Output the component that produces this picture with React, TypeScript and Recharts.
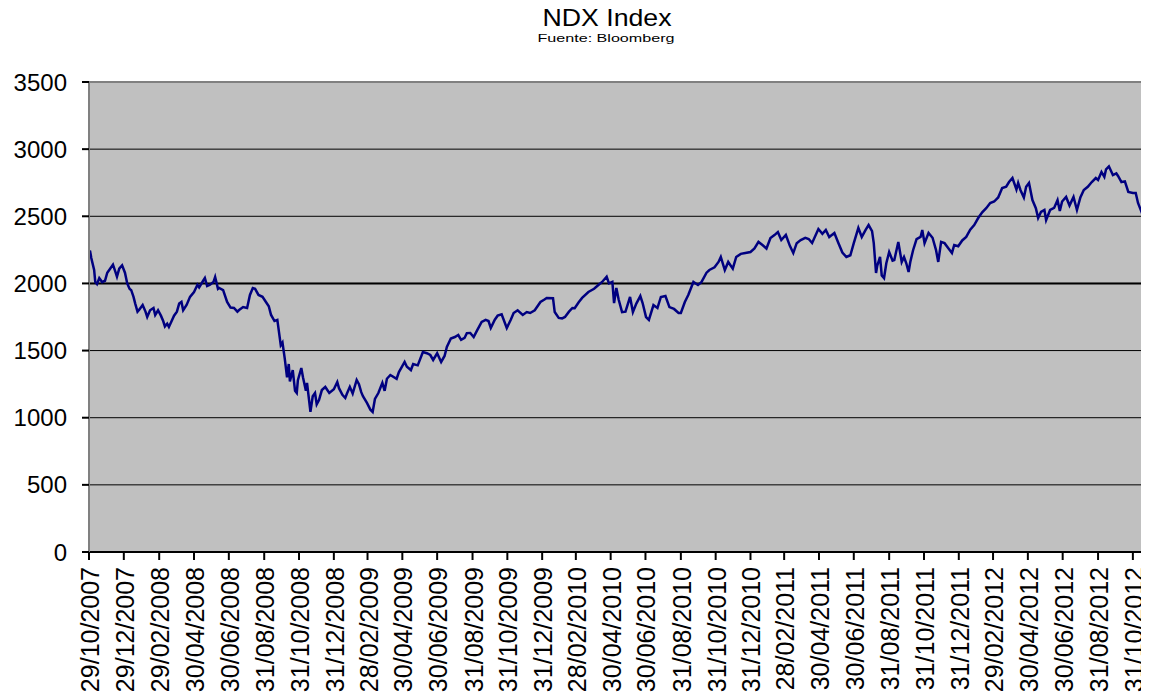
import React from 'react';
import { LineChart, Line, XAxis, YAxis, CartesianGrid, ReferenceLine } from 'recharts';

const title = 'NDX Index';
const subtitle = 'Fuente: Bloomberg';

const startDate = '2007-10-29';
const endDay = 1852;

const xTickLabels = [
  '29/10/2007', '29/12/2007', '29/02/2008', '30/04/2008', '30/06/2008', '31/08/2008',
  '31/10/2008', '31/12/2008', '28/02/2009', '30/04/2009', '30/06/2009', '31/08/2009',
  '31/10/2009', '31/12/2009', '28/02/2010', '30/04/2010', '30/06/2010', '31/08/2010',
  '31/10/2010', '31/12/2010', '28/02/2011', '30/04/2011', '30/06/2011', '31/08/2011',
  '31/10/2011', '31/12/2011', '29/02/2012', '30/04/2012', '30/06/2012', '31/08/2012',
  '31/10/2012',
];

const yTicks = [0, 500, 1000, 1500, 2000, 2500, 3000, 3500];

const dates = [
  '2007-10-29', '2007-10-31', '2007-11-02', '2007-11-07', '2007-11-09', '2007-11-12', '2007-11-16', '2007-11-21', '2007-11-26', '2007-11-30',
  '2007-12-05', '2007-12-10', '2007-12-14', '2007-12-17', '2007-12-21', '2007-12-26', '2007-12-31', '2008-01-04', '2008-01-08', '2008-01-11',
  '2008-01-15', '2008-01-18', '2008-01-22', '2008-01-25', '2008-01-31', '2008-02-05', '2008-02-08', '2008-02-13', '2008-02-19', '2008-02-22',
  '2008-02-27', '2008-03-03', '2008-03-07', '2008-03-10', '2008-03-14', '2008-03-17', '2008-03-21', '2008-03-26', '2008-03-31', '2008-04-04',
  '2008-04-08', '2008-04-11', '2008-04-17', '2008-04-23', '2008-04-30', '2008-05-06', '2008-05-09', '2008-05-16', '2008-05-19', '2008-05-23',
  '2008-05-28', '2008-06-03', '2008-06-06', '2008-06-11', '2008-06-13', '2008-06-20', '2008-06-27', '2008-07-03', '2008-07-09', '2008-07-15',
  '2008-07-18', '2008-07-25', '2008-08-01', '2008-08-06', '2008-08-11', '2008-08-15', '2008-08-21', '2008-08-28', '2008-09-03', '2008-09-08',
  '2008-09-12', '2008-09-18', '2008-09-23', '2008-09-29', '2008-10-02', '2008-10-06', '2008-10-10', '2008-10-13', '2008-10-15', '2008-10-20',
  '2008-10-24', '2008-10-27', '2008-10-29', '2008-11-04', '2008-11-07', '2008-11-12', '2008-11-14', '2008-11-20', '2008-11-24', '2008-11-28',
  '2008-12-01', '2008-12-05', '2008-12-10', '2008-12-16', '2008-12-19', '2008-12-23', '2008-12-31', '2009-01-06', '2009-01-09', '2009-01-15',
  '2009-01-20', '2009-01-23', '2009-01-28', '2009-02-02', '2009-02-09', '2009-02-13', '2009-02-17', '2009-02-20', '2009-02-27', '2009-03-05',
  '2009-03-09', '2009-03-13', '2009-03-19', '2009-03-26', '2009-03-30', '2009-04-03', '2009-04-09', '2009-04-20', '2009-04-24', '2009-05-04',
  '2009-05-08', '2009-05-15', '2009-05-19', '2009-05-27', '2009-06-05', '2009-06-12', '2009-06-18', '2009-06-23', '2009-06-30', '2009-07-07',
  '2009-07-13', '2009-07-17', '2009-07-24', '2009-07-31', '2009-08-06', '2009-08-11', '2009-08-17', '2009-08-21', '2009-08-27', '2009-09-02',
  '2009-09-08', '2009-09-16', '2009-09-23', '2009-09-28', '2009-10-02', '2009-10-09', '2009-10-14', '2009-10-21', '2009-10-30', '2009-11-06',
  '2009-11-11', '2009-11-18', '2009-11-27', '2009-12-04', '2009-12-10', '2009-12-18', '2009-12-28', '2010-01-04', '2010-01-08', '2010-01-19',
  '2010-01-22', '2010-01-29', '2010-02-04', '2010-02-09', '2010-02-16', '2010-02-22', '2010-02-26', '2010-03-05', '2010-03-11', '2010-03-22',
  '2010-04-01', '2010-04-09', '2010-04-15', '2010-04-23', '2010-04-27', '2010-05-03', '2010-05-06', '2010-05-10', '2010-05-14', '2010-05-20',
  '2010-05-26', '2010-06-03', '2010-06-08', '2010-06-14', '2010-06-21', '2010-06-25', '2010-07-01', '2010-07-06', '2010-07-14', '2010-07-21',
  '2010-07-27', '2010-08-04', '2010-08-11', '2010-08-19', '2010-08-27', '2010-08-31', '2010-09-07', '2010-09-13', '2010-09-22', '2010-09-30',
  '2010-10-06', '2010-10-15', '2010-10-20', '2010-10-29', '2010-11-05', '2010-11-09', '2010-11-16', '2010-11-22', '2010-11-30', '2010-12-06',
  '2010-12-14', '2010-12-22', '2010-12-31', '2011-01-07', '2011-01-14', '2011-01-21', '2011-01-28', '2011-02-04', '2011-02-11', '2011-02-17',
  '2011-02-23', '2011-03-03', '2011-03-10', '2011-03-16', '2011-03-22', '2011-03-29', '2011-04-06', '2011-04-12', '2011-04-18', '2011-04-29',
  '2011-05-06', '2011-05-12', '2011-05-18', '2011-05-27', '2011-06-03', '2011-06-10', '2011-06-17', '2011-06-24', '2011-06-30', '2011-07-08',
  '2011-07-14', '2011-07-21', '2011-07-26', '2011-08-01', '2011-08-04', '2011-08-08', '2011-08-10', '2011-08-15', '2011-08-18', '2011-08-22',
  '2011-08-26', '2011-08-31', '2011-09-06', '2011-09-09', '2011-09-16', '2011-09-22', '2011-09-26', '2011-09-30', '2011-10-04', '2011-10-07',
  '2011-10-12', '2011-10-18', '2011-10-25', '2011-10-28', '2011-11-01', '2011-11-08', '2011-11-15', '2011-11-21', '2011-11-25', '2011-11-30',
  '2011-12-06', '2011-12-13', '2011-12-19', '2011-12-23', '2011-12-30', '2012-01-06', '2012-01-13', '2012-01-20', '2012-01-27', '2012-02-03',
  '2012-02-10', '2012-02-17', '2012-02-24', '2012-03-02', '2012-03-09', '2012-03-16', '2012-03-23', '2012-03-28', '2012-04-03', '2012-04-10',
  '2012-04-13', '2012-04-17', '2012-04-23', '2012-04-27', '2012-05-02', '2012-05-08', '2012-05-14', '2012-05-18', '2012-05-23', '2012-05-29',
  '2012-06-01', '2012-06-08', '2012-06-15', '2012-06-21', '2012-06-25', '2012-06-29', '2012-07-06', '2012-07-12', '2012-07-19', '2012-07-25',
  '2012-07-31', '2012-08-06', '2012-08-13', '2012-08-20', '2012-08-27', '2012-08-31', '2012-09-06', '2012-09-11', '2012-09-14', '2012-09-19',
  '2012-09-26', '2012-10-02', '2012-10-05', '2012-10-11', '2012-10-17', '2012-10-23', '2012-10-31', '2012-11-05', '2012-11-09', '2012-11-15',
  '2012-11-19', '2012-11-23',
];

const ndxValues = [
  2240, 2238, 2190, 2100, 2010, 1995, 2040, 2010, 2020, 2080,
  2110, 2140, 2090, 2050, 2110, 2135, 2080, 2000, 1960, 1950,
  1900, 1850, 1790, 1805, 1840, 1790, 1750, 1800, 1817, 1765,
  1800, 1760, 1720, 1680, 1700, 1676, 1713, 1760, 1790, 1850,
  1862, 1800, 1840, 1900, 1936, 1990, 1970, 2020, 2040, 1980,
  1990, 2010, 2048, 1960, 1966, 1950, 1862, 1820, 1817, 1790,
  1802, 1824, 1817, 1914, 1966, 1960, 1914, 1900, 1862, 1830,
  1765, 1720, 1728, 1540, 1560, 1440, 1300, 1400, 1270, 1355,
  1200, 1184, 1280, 1370, 1300, 1200, 1259, 1043, 1160, 1184,
  1100, 1132, 1206, 1229, 1210, 1184, 1212, 1266, 1220, 1170,
  1147, 1180, 1230, 1180, 1281, 1250, 1190, 1160, 1110, 1060,
  1043, 1140, 1184, 1260, 1200, 1290, 1318, 1290, 1340, 1415,
  1380, 1355, 1400, 1390, 1489, 1480, 1467, 1430, 1480, 1415,
  1460, 1527, 1590, 1601, 1616, 1580, 1594, 1630, 1631, 1601,
  1650, 1713, 1728, 1720, 1668, 1730, 1760, 1770, 1668, 1730,
  1780, 1800, 1765, 1787, 1780, 1800, 1862, 1880, 1892, 1890,
  1787, 1743, 1740, 1750, 1790, 1817, 1815, 1860, 1892, 1936,
  1960, 1990, 2011, 2050, 2000, 2011, 1854, 1966, 1880, 1787,
  1790, 1899, 1787, 1850, 1906, 1854, 1750, 1728, 1839, 1817,
  1899, 1906, 1824, 1810, 1780, 1780, 1862, 1914, 2011, 1988,
  2010, 2080, 2100, 2120, 2160, 2197, 2100, 2160, 2110, 2197,
  2220, 2227, 2234, 2260, 2309, 2286, 2260, 2338, 2360, 2383,
  2323, 2361, 2280, 2227, 2300, 2323, 2340, 2331, 2301, 2405,
  2370, 2398, 2346, 2376, 2301, 2230, 2197, 2210, 2300, 2413,
  2346, 2400, 2435, 2390, 2300, 2078, 2130, 2197, 2060, 2040,
  2150, 2234, 2170, 2174, 2309, 2160, 2197, 2150, 2085, 2160,
  2249, 2330, 2346, 2398, 2300, 2376, 2340, 2250, 2160, 2309,
  2300, 2260, 2227, 2286, 2277, 2320, 2346, 2400, 2435, 2487,
  2530, 2560, 2599, 2610, 2640, 2711, 2720, 2755, 2785, 2700,
  2748, 2696, 2640, 2720, 2748, 2621, 2560, 2487, 2532, 2547,
  2472, 2547, 2562, 2621, 2540, 2610, 2644, 2580, 2644, 2547,
  2640, 2696, 2720, 2755, 2785, 2770, 2830, 2793, 2850, 2872,
  2807, 2820, 2800, 2755, 2760, 2681, 2673, 2673, 2599, 2534,
  2600, 2645,
];

const DAY = 86400000;
const startMs = Date.parse(startDate);
const dayOf = (iso: string) => Math.round((Date.parse(iso) - startMs) / DAY);
const labelDay = (lbl: string) => {
  const [dd, mm, yy] = lbl.split('/').map(Number);
  return Math.round((Date.UTC(yy, mm - 1, dd) - startMs) / DAY);
};

const data = dates.map((d, i) => ({ d: dayOf(d), v: ndxValues[i] }));
const xTickDays = xTickLabels.map(labelDay);
const labelByDay: Record<number, string> = {};
xTickLabels.forEach((l, i) => { labelByDay[xTickDays[i]] = l; });

const FONT = '"Liberation Sans", Arial, sans-serif';

const XTick = (props: any) => {
  const { x, y, payload } = props;
  return (
    <g transform={`translate(${x},${y})`}>
      <text transform="rotate(-90)" x={0} y={0} dy="0.4em" textAnchor="end" fontSize={25} fontFamily={FONT} fill="#000">
        {labelByDay[payload.value]}
      </text>
    </g>
  );
};

const YTick = (props: any) => {
  const { x, y, payload } = props;
  return (
    <text x={x} y={y} dy="0.36em" textAnchor="end" fontSize={24} fontFamily={FONT} fill="#000">
      {payload.value}
    </text>
  );
};

export default function App() {
  return (
    <div style={{ position: 'relative', width: 1141, height: 686 }}>
      <style>{'html,body{overflow:hidden;}'}</style>
      <LineChart width={1141} height={686} data={data} margin={{ top: 74, right: 3, left: 0, bottom: 0 }}>
        <CartesianGrid horizontal={true} vertical={false} fill="#C0C0C0" stroke="#000" strokeWidth={1} />
        <XAxis
          dataKey="d"
          type="number"
          domain={[0, endDay]}
          ticks={xTickDays}
          interval={0}
          height={142}
          tickSize={8}
          tickMargin={7}
          tick={<XTick />}
          axisLine={{ stroke: '#000', strokeWidth: 2 }}
          tickLine={{ stroke: '#000', strokeWidth: 2 }}
        />
        <YAxis
          type="number"
          domain={[0, 3500]}
          ticks={yTicks}
          interval={0}
          width={81}
          tickSize={7}
          tickMargin={15}
          tick={<YTick />}
          axisLine={{ stroke: '#808080', strokeWidth: 2 }}
          tickLine={{ stroke: '#000', strokeWidth: 2 }}
        />
        <ReferenceLine y={2000} stroke="#000" strokeWidth={2} />
        <ReferenceLine y={3500} stroke="#808080" strokeWidth={2} />
        <Line type="linear" dataKey="v" stroke="#000080" strokeWidth={2.5} dot={false} isAnimationActive={false} />
      </LineChart>
      <svg width={1141} height={60} style={{ position: 'absolute', left: 0, top: -8, pointerEvents: 'none' }}>
        <text x={599} y={26} textAnchor="middle" fontSize={24} fontFamily={FONT} textLength={129} lengthAdjust="spacingAndGlyphs" fill="#000">
          {title}
        </text>
        <text x={598} y={42} textAnchor="middle" fontSize={11} fontFamily={FONT} textLength={137} lengthAdjust="spacingAndGlyphs" fill="#000">
          {subtitle}
        </text>
      </svg>
    </div>
  );
}
